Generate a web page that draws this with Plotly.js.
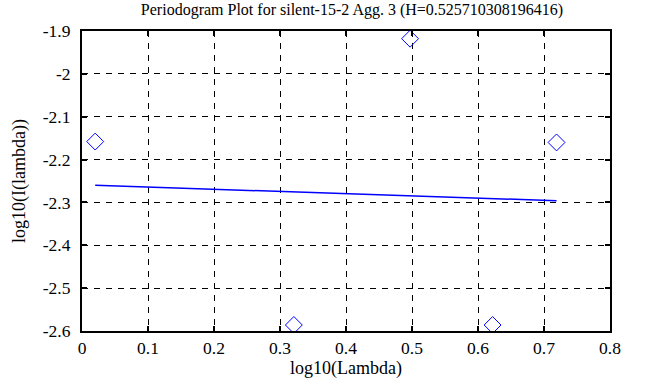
<!DOCTYPE html>
<html><head><meta charset="utf-8">
<script src="https://cdn.plot.ly/plotly-3.0.1.min.js"></script>
<style>html,body{margin:0;padding:0;background:#fff;}#chart{width:658px;height:387px;}</style>
</head><body><div id="chart"></div>
<script>
const logLambda = [0.0200, 0.3210, 0.4971, 0.6221, 0.7190];
const logPeriodogram = [-2.158, -2.586, -1.918, -2.586, -2.160];
const fitX = [0.0200, 0.7190];
const fitY = [-2.260, -2.296];
const xTickVals = [0, 0.1, 0.2, 0.3, 0.4, 0.5, 0.6, 0.7, 0.8];
const xTickText = ['0', '0.1', '0.2', '0.3', '0.4', '0.5', '0.6', '0.7', '0.8'];
const yTickVals = [-2.6, -2.5, -2.4, -2.3, -2.2, -2.1, -2.0, -1.9];
const yTickText = ['-2.6', '-2.5', '-2.4', '-2.3', '-2.2', '-2.1', '-2', '-1.9'];

const FAM = 'Liberation Serif';
const titleFont = {family: FAM, size: 18, color: '#000'};
const traces = [
  {x: logLambda, y: logPeriodogram, mode: 'markers', type: 'scatter',
   marker: {symbol: 'diamond-open', size: 13, color: '#0000ff', line: {width: 1, color: '#0000ff'}}},
  {x: fitX, y: fitY, mode: 'lines', type: 'scatter', line: {color: '#0000ff', width: 1.5}}
];
function axis(extra) {
  return Object.assign({
    showline: true, linecolor: '#000', linewidth: 2, mirror: 'ticks',
    ticks: 'inside', ticklen: 5, tickwidth: 2, tickcolor: '#000',
    showgrid: true, gridcolor: '#000', griddash: '6px,6px', gridwidth: 1,
    zeroline: false, tickfont: {family: FAM, size: 17.5, color: '#000'}
  }, extra);
}
const layout = {
  width: 658, height: 387, showlegend: false,
  font: {family: FAM, size: 17.5, color: '#000'},
  paper_bgcolor: '#fff', plot_bgcolor: '#fff',
  margin: {l: 82, r: 48, t: 31, b: 56},
  title: {text: 'Periodogram Plot for silent-15-2 Agg. 3 (H=0.525710308196416)',
          font: {family: FAM, size: 16, color: '#000'}, x: 0.535, xanchor: 'center', y: 0.975, yanchor: 'middle'},
  xaxis: axis({range: [0, 0.8], tickvals: xTickVals, ticktext: xTickText,
    title: {text: 'log10(Lambda)', font: titleFont, standoff: 2}}),
  yaxis: axis({range: [-2.6, -1.9], tickvals: yTickVals, ticktext: yTickText, ticklabelstandoff: 6,
    title: {text: 'log10(I(lambda))', font: titleFont, standoff: 12}})
};
Plotly.newPlot('chart', traces, layout, {displayModeBar: false, staticPlot: true});
</script></body></html>
